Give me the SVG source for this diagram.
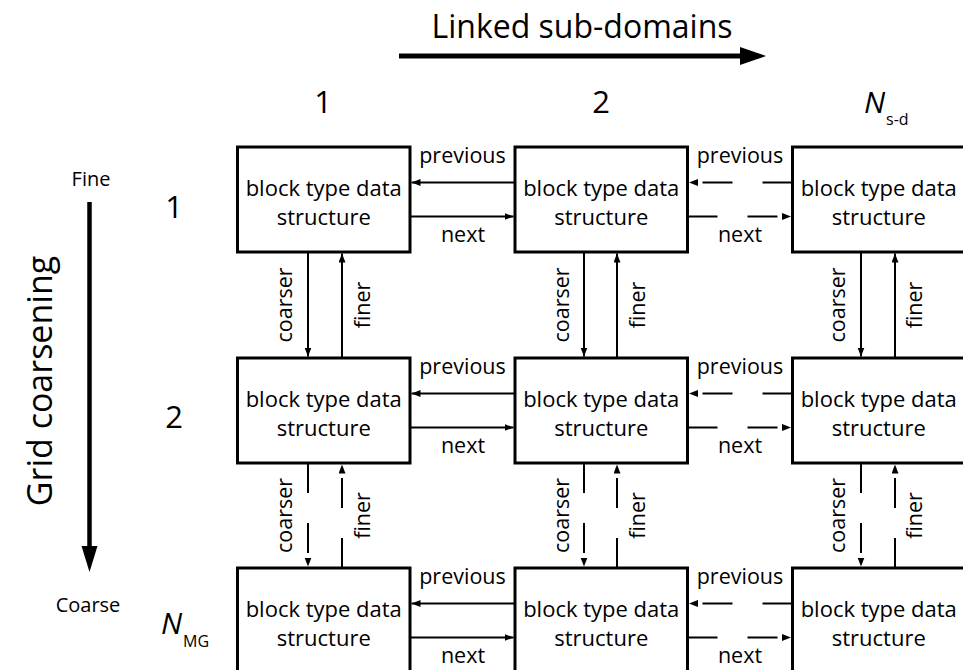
<svg xmlns="http://www.w3.org/2000/svg" width="963" height="670" viewBox="0 0 963 670">
<style>
text{font-family:"Open Sans","Liberation Sans",sans-serif;fill:#000}
.box{fill:#fff;stroke:#000;stroke-width:3}
.bt{font-size:22px;text-anchor:middle}
.lb{font-size:21.5px;text-anchor:middle}
.num{font-size:31px;text-anchor:middle}
.ln{stroke:#000;stroke-width:2;fill:none}
.sol{marker-end:url(#ah)}
.dsh{stroke-dasharray:30 30;marker-end:url(#ah)}
</style>
<defs>
<marker id="ah" markerUnits="userSpaceOnUse" markerWidth="10" markerHeight="8" refX="9" refY="3.5" orient="auto"><path d="M0,0 L9,3.5 L0,7 z" fill="#000"/></marker>
</defs>

<!-- axis arrows and titles -->
<g id="axis-top">
<text x="582" y="38" style="font-size:32px;text-anchor:middle">Linked sub-domains</text>
<line x1="399" y1="56" x2="742" y2="56" stroke="#000" stroke-width="5"/>
<path d="M740,47 L766,56 L740,65 z" fill="#000"/>
</g>
<g id="axis-left">
<text x="91" y="186" style="font-size:20px;text-anchor:middle">Fine</text>
<line x1="89.5" y1="202" x2="89.5" y2="548" stroke="#000" stroke-width="4.5"/>
<path d="M81.5,546 L89.5,572 L97.5,546 z" fill="#000"/>
<text x="88" y="612" style="font-size:20px;text-anchor:middle">Coarse</text>
<text transform="translate(52,381) rotate(-90)" style="font-size:34px;text-anchor:middle">Grid coarsening</text>
</g>

<!-- column / row indices -->
<g id="col-labels">
<text class="num" x="323" y="113">1</text>
<text class="num" x="601" y="113">2</text>
<text x="864" y="113" style="font-size:30px;font-style:italic">N</text>
<text x="886" y="125" style="font-size:16px">s-d</text>
</g>
<g id="row-labels">
<text class="num" x="174" y="218">1</text>
<text class="num" x="174" y="428">2</text>
<text x="161" y="634" style="font-size:30px;font-style:italic">N</text>
<text x="183" y="647" style="font-size:16px">MG</text>
</g>

<!-- connectors -->
<g id="connectors">
<!-- horizontal row 1 -->
<line class="ln sol" x1="515" y1="182.5" x2="411.5" y2="182.5"/>
<line class="ln sol" x1="410" y1="216.5" x2="513.5" y2="216.5"/>
<line class="ln dsh" x1="792.5" y1="182.5" x2="689" y2="182.5"/>
<line class="ln dsh" x1="687.5" y1="216.5" x2="791" y2="216.5"/>
<!-- horizontal row 2 -->
<line class="ln sol" x1="515" y1="393.5" x2="411.5" y2="393.5"/>
<line class="ln sol" x1="410" y1="427.5" x2="513.5" y2="427.5"/>
<line class="ln dsh" x1="792.5" y1="393.5" x2="689" y2="393.5"/>
<line class="ln dsh" x1="687.5" y1="427.5" x2="791" y2="427.5"/>
<!-- horizontal row 3 -->
<line class="ln sol" x1="515" y1="603.5" x2="411.5" y2="603.5"/>
<line class="ln sol" x1="410" y1="637.5" x2="513.5" y2="637.5"/>
<line class="ln dsh" x1="792.5" y1="603.5" x2="689" y2="603.5"/>
<line class="ln dsh" x1="687.5" y1="637.5" x2="791" y2="637.5"/>
<!-- vertical row1-2 -->
<line class="ln sol" x1="308" y1="252" x2="308" y2="356.5"/>
<line class="ln sol" x1="342" y1="358" x2="342" y2="253.5"/>
<line class="ln sol" x1="584" y1="252" x2="584" y2="356.5"/>
<line class="ln sol" x1="617" y1="358" x2="617" y2="253.5"/>
<line class="ln sol" x1="861" y1="252" x2="861" y2="356.5"/>
<line class="ln sol" x1="895" y1="358" x2="895" y2="253.5"/>
<!-- vertical row2-3 -->
<line class="ln dsh" x1="308" y1="463" x2="308" y2="566.5"/>
<line class="ln dsh" x1="342" y1="568" x2="342" y2="464.5"/>
<line class="ln dsh" x1="584" y1="463" x2="584" y2="566.5"/>
<line class="ln dsh" x1="617" y1="568" x2="617" y2="464.5"/>
<line class="ln dsh" x1="861" y1="463" x2="861" y2="566.5"/>
<line class="ln dsh" x1="895" y1="568" x2="895" y2="464.5"/>
<!-- labels -->
<text class="lb" x="462.5" y="163">previous</text>
<text class="lb" x="463" y="242">next</text>
<text class="lb" x="740" y="163">previous</text>
<text class="lb" x="740" y="242">next</text>
<text class="lb" x="462.5" y="374">previous</text>
<text class="lb" x="463" y="453">next</text>
<text class="lb" x="740" y="374">previous</text>
<text class="lb" x="740" y="453">next</text>
<text class="lb" x="462.5" y="584">previous</text>
<text class="lb" x="463" y="663">next</text>
<text class="lb" x="740" y="584">previous</text>
<text class="lb" x="740" y="663">next</text>
<text class="lb" transform="translate(292,305) rotate(-90)">coarser</text>
<text class="lb" transform="translate(370,305) rotate(-90)">finer</text>
<text class="lb" transform="translate(569,305) rotate(-90)">coarser</text>
<text class="lb" transform="translate(645,305) rotate(-90)">finer</text>
<text class="lb" transform="translate(845,305) rotate(-90)">coarser</text>
<text class="lb" transform="translate(922,305) rotate(-90)">finer</text>
<text class="lb" transform="translate(292,515.5) rotate(-90)">coarser</text>
<text class="lb" transform="translate(370,515.5) rotate(-90)">finer</text>
<text class="lb" transform="translate(569,515.5) rotate(-90)">coarser</text>
<text class="lb" transform="translate(645,515.5) rotate(-90)">finer</text>
<text class="lb" transform="translate(845,515.5) rotate(-90)">coarser</text>
<text class="lb" transform="translate(922,515.5) rotate(-90)">finer</text>
</g>

<!-- nodes -->
<g id="node-1-1"><rect class="box" x="237.5" y="147" width="172.5" height="105"/><text class="bt" x="323.75" y="196">block type data</text><text class="bt" x="323.75" y="225">structure</text></g>
<g id="node-1-2"><rect class="box" x="515" y="147" width="172.5" height="105"/><text class="bt" x="601.25" y="196">block type data</text><text class="bt" x="601.25" y="225">structure</text></g>
<g id="node-1-3"><rect class="box" x="792.5" y="147" width="172.5" height="105"/><text class="bt" x="878.75" y="196">block type data</text><text class="bt" x="878.75" y="225">structure</text></g>
<g id="node-2-1"><rect class="box" x="237.5" y="358" width="172.5" height="105"/><text class="bt" x="323.75" y="407">block type data</text><text class="bt" x="323.75" y="436">structure</text></g>
<g id="node-2-2"><rect class="box" x="515" y="358" width="172.5" height="105"/><text class="bt" x="601.25" y="407">block type data</text><text class="bt" x="601.25" y="436">structure</text></g>
<g id="node-2-3"><rect class="box" x="792.5" y="358" width="172.5" height="105"/><text class="bt" x="878.75" y="407">block type data</text><text class="bt" x="878.75" y="436">structure</text></g>
<g id="node-3-1"><rect class="box" x="237.5" y="568" width="172.5" height="105"/><text class="bt" x="323.75" y="617">block type data</text><text class="bt" x="323.75" y="646">structure</text></g>
<g id="node-3-2"><rect class="box" x="515" y="568" width="172.5" height="105"/><text class="bt" x="601.25" y="617">block type data</text><text class="bt" x="601.25" y="646">structure</text></g>
<g id="node-3-3"><rect class="box" x="792.5" y="568" width="172.5" height="105"/><text class="bt" x="878.75" y="617">block type data</text><text class="bt" x="878.75" y="646">structure</text></g>
</svg>
